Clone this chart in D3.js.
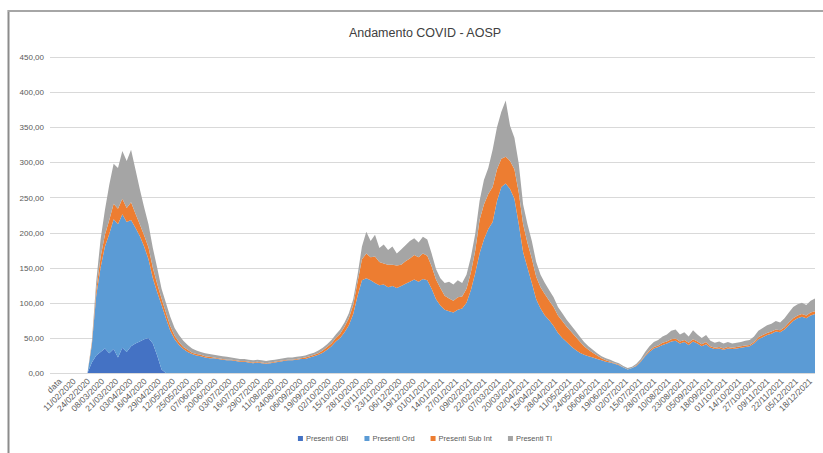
<!DOCTYPE html>
<html>
<head>
<meta charset="utf-8">
<script src="https://cdn.jsdelivr.net/npm/d3@7"></script>
<style>
  body { margin: 0; background: #fff; }
  svg { display: block; }
  text { font-family: "Liberation Sans", Arial, sans-serif; }
</style>
</head>
<body>
<svg id="chart" width="823" height="453"></svg>
<script>
// Daily occupancy, sampled every 4 days starting from the "data" row (day 0)
const sampleStep = 4;
const totalDays = 696;
const labelStep = 13;

const seriesNames = ["Presenti OBI", "Presenti Ord", "Presenti Sub Int", "Presenti TI"];
const seriesColors = ["#4472C4", "#5B9BD5", "#ED7D31", "#A5A5A5"];

const tickLabels = ["data",
  "11/02/2020","24/02/2020","08/03/2020","21/03/2020","03/04/2020","16/04/2020","29/04/2020",
  "12/05/2020","25/05/2020","07/06/2020","20/06/2020","03/07/2020","16/07/2020","29/07/2020",
  "11/08/2020","24/08/2020","06/09/2020","19/09/2020","02/10/2020","15/10/2020","28/10/2020",
  "10/11/2020","23/11/2020","06/12/2020","19/12/2020","01/01/2021","14/01/2021","27/01/2021",
  "09/02/2021","22/02/2021","07/03/2021","20/03/2021","02/04/2021","15/04/2021","28/04/2021",
  "11/05/2021","24/05/2021","06/06/2021","19/06/2021","02/07/2021","15/07/2021","28/07/2021",
  "10/08/2021","23/08/2021","05/09/2021","18/09/2021","01/10/2021","14/10/2021","27/10/2021",
  "09/11/2021","22/11/2021","05/12/2021","18/12/2021"];

const presentiOBI = [
  0,0,0,0,0,0,0,0,
  15,25,30,35,28,34,22,36,30,38,42,45,48,50,42,25,5,0,0,0,0,0,0,
  0,0,0,0,0,0,0,0,0,0,0,0,0,0,0,0,0,0,0,0,0,0,0,0,0,0,0,0,0,0,
  0,0,0,0,0,0,0,0,0,0,
  0,0,0,0,0,0,0,0,0,0,0,0,0,0,0,0,0,0,0,0,
  0,0,0,0,0,0,0,0,0,0,0,0,0,0,0,0,0,0,0,0,
  0,0,0,0,0,0,0,0,0,0,0,0,0,0,0,0,0,0,0,0,
  0,0,0,0,0,0,0,0,0,0,0,0,0,0,0,0,0,0,0,0,
  0,0,0,0,0,0,0,0,0,0,0,0,0,0,0,0,0,0,0,0,
  0,0,0,0];

const presentiOrd = [
  0,0,0,0,0,0,0,0,
  25,85,120,145,170,185,190,190,185,180,165,150,132,112,93,90,92,78,60,48,40,34,30,
  27,25,24,22,21,21,20,19,18,18,17,16,16,15,14,15,14,13,14,15,16,17,18,18,19,20,20,22,24,26,
  29,33,38,45,50,58,68,84,110,132,
  135,132,128,125,126,122,124,121,124,127,130,133,130,134,132,120,105,96,90,88,
  86,90,92,100,118,142,170,190,205,215,245,265,270,262,248,212,172,150,128,105,
  92,82,75,67,57,50,44,38,33,29,26,24,22,20,18,16,15,13,11,8,
  5,7,10,16,24,30,35,37,40,42,45,46,42,44,40,45,42,38,41,36,
  34,35,33,35,34,35,36,37,38,42,48,51,54,56,59,58,62,68,74,78,
  80,78,82,84];

const presentiSubInt = [
  0,0,0,0,0,0,0,0,
  3,8,15,17,20,22,22,22,20,25,20,17,16,17,15,12,9,8,7,5,4,3,3,
  2,2,2,2,2,1,1,1,1,1,1,1,1,1,1,1,1,1,1,1,1,1,1,1,1,1,2,2,2,2,
  3,4,4,5,6,8,10,13,20,30,
  35,33,38,33,30,32,30,32,30,32,33,35,35,36,35,32,28,25,20,18,
  17,18,17,20,25,32,48,50,50,50,45,40,38,40,42,45,40,35,35,32,
  30,30,28,27,25,24,22,21,19,16,12,9,7,5,3,2,1,1,1,0,
  0,0,1,1,1,2,2,2,3,3,3,3,3,3,3,3,3,3,3,2,
  2,2,2,2,2,2,2,2,2,2,3,3,3,3,3,3,3,4,4,4,
  4,4,4,4];

const presentiTI = [
  0,0,0,0,0,0,0,0,
  2,12,25,35,50,57,58,68,67,75,63,50,40,33,28,23,14,14,13,11,10,9,7,
  6,5,4,4,4,4,4,4,4,3,3,3,3,3,3,3,3,3,3,3,3,3,3,3,3,3,3,3,3,4,
  4,4,5,5,6,6,7,8,10,18,
  31,23,31,20,27,21,26,17,22,23,25,24,21,24,23,18,15,14,18,24,
  23,24,19,20,22,24,27,35,37,53,60,67,80,50,45,41,28,27,25,21,
  18,16,15,14,12,11,10,9,8,7,6,5,4,3,3,3,3,2,2,2,
  2,2,2,3,5,6,7,8,9,10,12,13,10,11,9,13,10,9,10,8,
  7,8,7,7,6,6,6,7,7,8,9,10,11,11,12,11,13,14,16,16,
  16,15,17,18];

const yTicks = [0, 50, 100, 150, 200, 250, 300, 350, 400, 450];

// ---- table for the stack ----
const rows = presentiOrd.map((_, i) => ({
  day: i * sampleStep,
  [seriesNames[0]]: presentiOBI[i],
  [seriesNames[1]]: presentiOrd[i],
  [seriesNames[2]]: presentiSubInt[i],
  [seriesNames[3]]: presentiTI[i]
}));

const svg = d3.select("#chart");
const plot = { left: 57, right: 815, top: 57, bottom: 373 };

// chart frame (left and top edges)
svg.append("line").attr("x1", 8.5).attr("x2", 8.5).attr("y1", 10).attr("y2", 453)
  .attr("stroke", "#8c8c8c").attr("stroke-width", 2);
svg.append("line").attr("x1", 8).attr("x2", 823).attr("y1", 11).attr("y2", 11)
  .attr("stroke", "#a6a6a6").attr("stroke-width", 2);

const x = d3.scaleLinear().domain([0, totalDays]).range([plot.left, plot.right]);
const y = d3.scaleLinear().domain([0, 450]).range([plot.bottom, plot.top]);

const it = d3.formatLocale({ decimal: ",", thousands: ".", grouping: [3], currency: ["", "€"] });
const fmt = it.format(".2f");

// gridlines
svg.append("g").selectAll("line").data(yTicks).join("line")
  .attr("x1", 50).attr("x2", plot.right)
  .attr("y1", d => Math.round(y(d)) + 0.5).attr("y2", d => Math.round(y(d)) + 0.5)
  .attr("stroke", "#d9d9d9").attr("stroke-width", 1);

// y axis labels
const yAxis = d3.axisLeft(y).tickValues(yTicks).tickFormat(fmt).tickSize(0).tickPadding(0);
svg.append("g").attr("transform", `translate(44,0)`).call(yAxis)
  .call(g => g.select(".domain").remove())
  .selectAll("text").attr("fill", "#595959").style("font-size", "8px")
  .style("font-family", "'Liberation Sans', Arial, sans-serif");

// stacked areas
const stack = d3.stack().keys(seriesNames);
const layers = stack(rows);
const area = d3.area()
  .x(d => x(d.data.day))
  .y0(d => y(d[0]))
  .y1(d => y(d[1]));

svg.append("g").selectAll("path").data(layers).join("path")
  .attr("d", area)
  .attr("fill", (d, i) => seriesColors[i]);

// x axis
const tickDays = tickLabels.map((_, k) => k * labelStep);
const xAxis = d3.axisBottom(x).tickValues(tickDays)
  .tickFormat((d, k) => tickLabels[k]).tickSize(0).tickPadding(0);
const gx = svg.append("g").attr("transform", `translate(0,${plot.bottom})`).call(xAxis);
gx.select(".domain").attr("stroke", "#d9d9d9").attr("d", `M50,0.5H${plot.right}`);
gx.selectAll("text")
  .attr("fill", "#595959")
  .style("font-size", "8.5px")
  .style("font-family", "'Liberation Sans', Arial, sans-serif")
  .attr("text-anchor", "end")
  .attr("dy", "0.3em")
  .attr("transform", "translate(3,7) rotate(-45)");

// title
svg.append("text").attr("x", 425).attr("y", 37).attr("text-anchor", "middle")
  .attr("fill", "#404040").style("font-size", "12.5px")
  .text("Andamento COVID - AOSP");

// legend
const legend = svg.append("g");
let lx = 0;
seriesNames.forEach((name, i) => {
  const g = legend.append("g").attr("transform", `translate(${lx},0)`);
  g.append("rect").attr("x", 0).attr("y", -4).attr("width", 5).attr("height", 5)
    .attr("fill", seriesColors[i]);
  const t = g.append("text").attr("x", 8).attr("y", 1)
    .attr("fill", "#595959").style("font-size", "7.5px").text(name);
  lx += 8 + t.node().getComputedTextLength() + 16;
});
legend.attr("transform", `translate(${425 - (lx - 16) / 2},440)`);
</script>
</body>
</html>
